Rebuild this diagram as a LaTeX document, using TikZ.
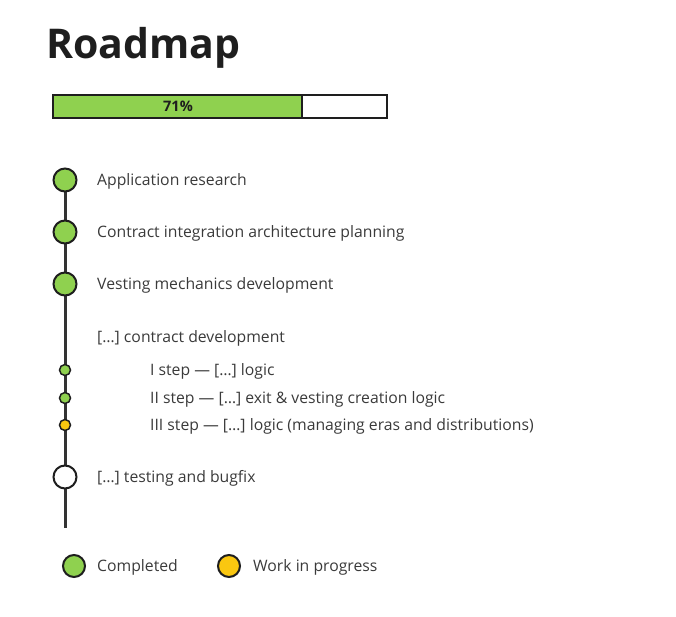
\documentclass[tikz,border=0pt]{standalone}
\usepackage{fontspec}
\setmainfont{Open Sans}
\definecolor{done}{HTML}{8FD14F}
\definecolor{wip}{HTML}{FAC710}
\definecolor{ink}{HTML}{1E1E1E}
\definecolor{txt}{HTML}{3A3A3A}
\definecolor{rail}{HTML}{333333}
\tikzset{
  big/.style={circle,draw=ink,line width=2pt,minimum size=23pt,inner sep=0pt},
  small/.style={circle,draw=ink,line width=1.5pt,minimum size=11pt,inner sep=0pt},
  label/.style={anchor=west,text=txt,font=\fontsize{15.75}{18}\selectfont,inner sep=0pt,yshift=-1.5pt},
}
\begin{document}
\begin{tikzpicture}[x=1pt,y=-1pt]
\useasboundingbox (0,0) rectangle (676,616);
\node[anchor=base west,inner sep=0pt,text=ink,font=\fontsize{41}{48}\bfseries\selectfont] (title) at (46,58.5) {Roadmap};
% progress bar
\fill[done] (53,95) rectangle (302,118);
\draw[ink,line width=2pt] (53,95) rectangle (387,118);
\draw[ink,line width=1.5pt] (302,95) -- (302,118);
\node[text=ink,font=\fontsize{14.5}{16}\bfseries\selectfont,inner sep=0pt] (pct) at (178,106) {71\%};
% rail
\coordinate (end) at (65,528);
\draw[rail,line width=3pt] (65,180) -- (end);
% nodes
\node[big,fill=done] (s1) at (65,180) {};
\node[big,fill=done] (s2) at (65,232) {};
\node[big,fill=done] (s3) at (65,284) {};
\node[small,fill=done] (p1) at (65,370) {};
\node[small,fill=done] (p2) at (65,398) {};
\node[small,fill=wip] (p3) at (65,425) {};
\node[big,fill=white] (s5) at (65,477) {};
\node[label] (t1) at (97,180) {Application research};
\node[label] (t2) at (97,232) {Contract integration architecture planning};
\node[label] (t3) at (97,284) {Vesting mechanics development};
\node[label] (t4) at (97,337) {[…] contract development};
\node[label] (u1) at (150,370) {I step — […] logic};
\node[label] (u2) at (150,398) {II step — […] exit \& vesting creation logic};
\node[label] (u3) at (150,425) {III step — […] logic (managing eras and distributions)};
\node[label] (t5) at (97,477) {[…] testing and bugfix};
% legend
\node[big,fill=done,minimum size=22pt] (l1) at (74,566) {};
\node[label] (lt1) at (97,566) {Completed};
\node[big,fill=wip,minimum size=22pt] (l2) at (229,566) {};
\node[label] (lt2) at (253,566) {Work in progress};
\end{tikzpicture}
\end{document}
